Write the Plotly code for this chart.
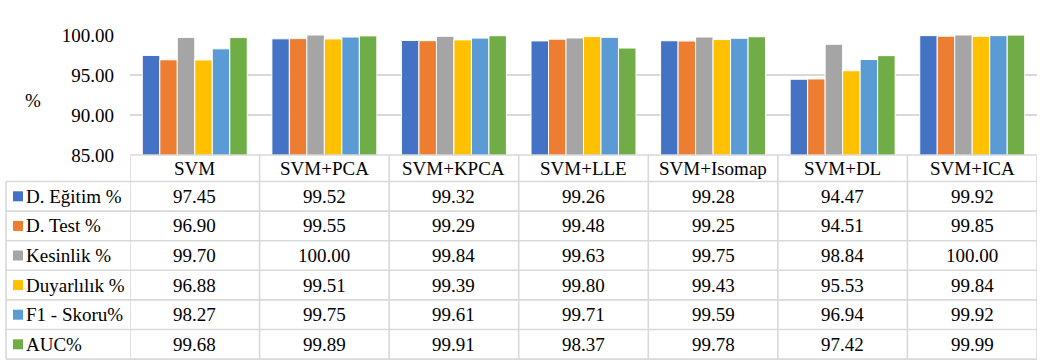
import plotly.graph_objects as go

# Methods (columns) and metrics (series / table rows)
methods = ["SVM", "SVM+PCA", "SVM+KPCA", "SVM+LLE", "SVM+Isomap", "SVM+DL", "SVM+ICA"]
metrics = ["D. Eğitim %", "D. Test %", "Kesinlik %", "Duyarlılık %", "F1 - Skoru%", "AUC%"]

egitim = [97.45, 99.52, 99.32, 99.26, 99.28, 94.47, 99.92]
test = [96.90, 99.55, 99.29, 99.48, 99.25, 94.51, 99.85]
kesinlik = [99.70, 100.00, 99.84, 99.63, 99.75, 98.84, 100.00]
duyarlilik = [96.88, 99.51, 99.39, 99.80, 99.43, 95.53, 99.84]
f1_skoru = [98.27, 99.75, 99.61, 99.71, 99.59, 96.94, 99.92]
auc = [99.68, 99.89, 99.91, 98.37, 99.78, 97.42, 99.99]

series = [egitim, test, kesinlik, duyarlilik, f1_skoru, auc]
colors = ["#4472C4", "#ED7D31", "#A5A5A5", "#FFC000", "#5B9BD5", "#70AD47"]

y_ticks = [85, 90, 95, 100]

W, H = 1043, 363
M_L, M_R, M_T, M_B = 130, 6, 35, 208
PLOT_W = W - M_L - M_R
PLOT_H = H - M_T - M_B
FONT = "Times New Roman, Liberation Serif, DejaVu Serif, serif"
FS = 19
GRID = "#D9D9D9"


def px_x(px):
    return (px - M_L) / PLOT_W


def px_y(py):
    return (H - M_B - py) / PLOT_H


fig = go.Figure()
for name, vals, col in zip(metrics, series, colors):
    fig.add_trace(go.Bar(
        x=methods, y=vals, name=name,
        marker=dict(color=col, line=dict(color="white", width=1)),
    ))

shapes = []
annotations = []

# data table geometry (pixels)
top_px = H - M_B
header_bottom = 181.5
row_h = 29.6
row_edges = [header_bottom + k * row_h for k in range(len(metrics) + 1)]
left_px = 6

line_style = dict(color=GRID, width=1.6)
txt_font = dict(family=FONT, size=FS, color="black")

# axis line / header top
shapes.append(dict(type="line", xref="paper", yref="paper",
                   x0=0, x1=1, y0=px_y(top_px), y1=px_y(top_px), line=line_style))
# row separators
for e in row_edges:
    shapes.append(dict(type="line", xref="paper", yref="paper",
                       x0=px_x(left_px), x1=1, y0=px_y(e), y1=px_y(e), line=line_style))
# column separators
for i in range(len(methods) + 1):
    shapes.append(dict(type="line", xref="x", yref="paper",
                       x0=i - 0.5, x1=i - 0.5, y0=px_y(top_px), y1=px_y(row_edges[-1]),
                       line=line_style))
# legend column left edge
shapes.append(dict(type="line", xref="paper", yref="paper",
                   x0=px_x(left_px), x1=px_x(left_px),
                   y0=px_y(header_bottom), y1=px_y(row_edges[-1]), line=line_style))

# header labels
for i, m in enumerate(methods):
    annotations.append(dict(x=i, xref="x", y=px_y((top_px + header_bottom) / 2), yref="paper",
                            text=m, showarrow=False, xanchor="center", yanchor="middle",
                            font=txt_font))

# rows: legend key, label and values
for r, (name, vals, col) in enumerate(zip(metrics, series, colors)):
    cy = (row_edges[r] + row_edges[r + 1]) / 2
    shapes.append(dict(type="rect", xref="paper", yref="paper",
                       x0=px_x(13), x1=px_x(23), y0=px_y(cy + 5), y1=px_y(cy - 5),
                       fillcolor=col, line=dict(width=0)))
    annotations.append(dict(x=px_x(24), xref="paper", y=px_y(cy), yref="paper",
                            text=name, showarrow=False, xanchor="left", yanchor="middle",
                            font=txt_font))
    for i, v in enumerate(vals):
        annotations.append(dict(x=i, xref="x", y=px_y(cy), yref="paper",
                                text=f"{v:.2f}", showarrow=False, xanchor="center",
                                yanchor="middle", font=txt_font))

# y axis title
annotations.append(dict(x=px_x(33), xref="paper", y=px_y(100), yref="paper",
                        text="%", showarrow=False, xanchor="center", yanchor="middle",
                        font=txt_font))

fig.update_layout(
    width=W, height=H,
    margin=dict(l=M_L, r=M_R, t=M_T, b=M_B),
    paper_bgcolor="white", plot_bgcolor="white",
    font=dict(family=FONT, size=FS, color="black"),
    barmode="group", bargap=0.19, bargroupgap=0,
    showlegend=False,
    shapes=shapes, annotations=annotations,
    xaxis=dict(range=[-0.5, len(methods) - 0.5], showticklabels=False,
               showgrid=False, zeroline=False, showline=False),
    yaxis=dict(range=[85, 100], tickvals=y_ticks, tickformat=".2f",
               showgrid=True, gridcolor=GRID, gridwidth=1.6, zeroline=False,
               showline=False, ticks="", ticklabelstandoff=15,
               tickfont=txt_font),
)

fig.write_html("out.html")
